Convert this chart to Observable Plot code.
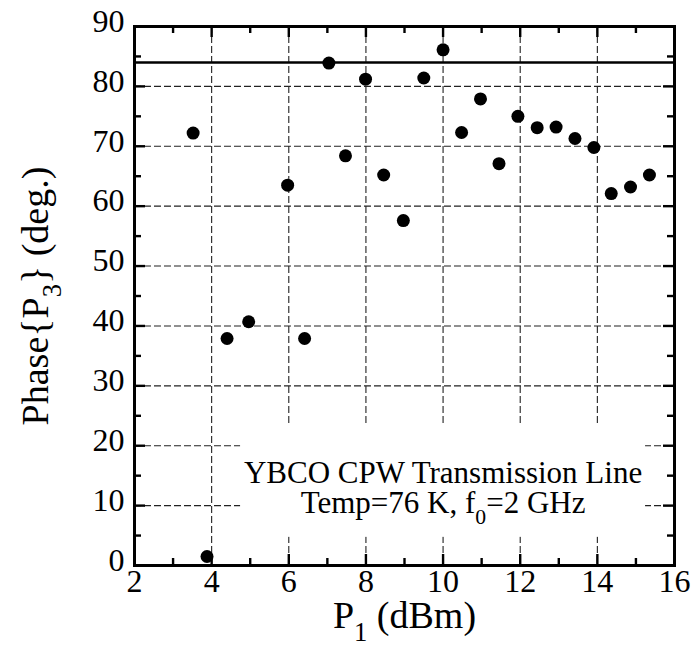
<!DOCTYPE html>
<html>
<head>
<meta charset="utf-8">
<script src="https://cdn.jsdelivr.net/npm/d3@7"></script>
<script src="https://cdn.jsdelivr.net/npm/@observablehq/plot@0.6"></script>
<style>
  html, body { margin: 0; padding: 0; background: #fff; }
  svg text, svg tspan { white-space: pre; }
</style>
</head>
<body>
<div id="chart"></div>
<script>
// Data
const p1 =    [3.52, 3.88, 4.40, 4.96, 5.97, 6.41, 7.04, 7.47, 7.99, 8.46, 8.97, 9.50, 10.00, 10.48, 10.97, 11.45, 11.94, 12.44, 12.93, 13.42, 13.91, 14.36, 14.86, 15.35];
const phase = [72.2, 1.5, 37.9, 40.7, 63.5, 37.9, 83.9, 68.4, 81.2, 65.2, 57.6, 81.4, 86.1, 72.3, 77.9, 67.1, 75.0, 73.1, 73.2, 71.3, 69.8, 62.1, 63.2, 65.2];
const refLine = [84];

const xTicks = [2, 4, 6, 8, 10, 12, 14, 16];
const xMinor = [3, 5, 7, 9, 11, 13, 15];
const yTicks = [0, 10, 20, 30, 40, 50, 60, 70, 80, 90];
const yMinor = [5, 15, 25, 35, 45, 55, 65, 75, 85];
const xGrid = [4, 6, 8, 10, 12, 14];
const yGrid = [10, 20, 30, 40, 50, 60, 70, 80];

const xLabel = "P_1 (dBm)";
const yLabel = "Phase{P_3} (deg.)";
const noteLines = ["YBCO CPW Transmission Line", "Temp=76 K, f_0=2 GHz"];
const noteX = [10, 10];
const noteY = [15.4, 10.4];
const noteBox = [{x1: 4.75, x2: 15.25, y1: 4.7, y2: 23.3}];

const W = 694, H = 661;
const mL = 134, mR = 20, mT = 26, mB = 96;
const innerW = W - mL - mR, innerH = H - mT - mB;
const majLen = 11, minLen = 7;

const data = p1.map((x, i) => ({x, y: phase[i]}));
const notes = noteLines.map((t, i) => ({t, x: noteX[i], y: noteY[i]}));

const chart = Plot.plot({
  width: W, height: H,
  marginLeft: mL, marginRight: mR, marginTop: mT, marginBottom: mB,
  style: {fontFamily: "'Liberation Serif', 'Times New Roman', serif", color: "#000", background: "#fff", overflow: "visible"},
  x: {domain: [2, 16]},
  y: {domain: [0, 90]},
  marks: [
    // grid
    Plot.gridX({ticks: xGrid, stroke: "#222", strokeOpacity: 1, strokeWidth: 1.1, strokeDasharray: "7,3"}),
    Plot.gridY({ticks: yGrid, stroke: "#222", strokeOpacity: 1, strokeWidth: 1.1, strokeDasharray: "7,3"}),
    // white box behind annotation
    Plot.rect(noteBox, {x1: "x1", x2: "x2", y1: "y1", y2: "y2", fill: "#fff"}),
    // reference line
    Plot.ruleY(refLine, {stroke: "#000", strokeWidth: 2.6}),
    // inward tick marks: bottom/top
    Plot.gridX({ticks: xTicks, stroke: "#000", strokeOpacity: 1, strokeWidth: 2.4, insetTop: innerH - majLen}),
    Plot.gridX({ticks: xMinor, stroke: "#000", strokeOpacity: 1, strokeWidth: 2.4, insetTop: innerH - minLen}),
    Plot.gridX({ticks: xTicks, stroke: "#000", strokeOpacity: 1, strokeWidth: 2.4, insetBottom: innerH - majLen}),
    Plot.gridX({ticks: xMinor, stroke: "#000", strokeOpacity: 1, strokeWidth: 2.4, insetBottom: innerH - minLen}),
    // inward tick marks: left/right
    Plot.gridY({ticks: yTicks, stroke: "#000", strokeOpacity: 1, strokeWidth: 2.4, insetRight: innerW - majLen}),
    Plot.gridY({ticks: yMinor, stroke: "#000", strokeOpacity: 1, strokeWidth: 2.4, insetRight: innerW - minLen}),
    Plot.gridY({ticks: yTicks, stroke: "#000", strokeOpacity: 1, strokeWidth: 2.4, insetLeft: innerW - majLen}),
    Plot.gridY({ticks: yMinor, stroke: "#000", strokeOpacity: 1, strokeWidth: 2.4, insetLeft: innerW - minLen}),
    // tick labels
    Plot.axisX({ticks: xTicks, tickSize: 0, tickPadding: 4, fontSize: 32, label: null}),
    Plot.axisY({ticks: yTicks, tickSize: 0, tickPadding: 10, fontSize: 32, dy: -5, label: null}),
    // data points
    Plot.dot(data, {x: "x", y: "y", r: 6.5, fill: "#000", stroke: "none"}),
    // frame
    Plot.frame({stroke: "#000", strokeWidth: 3}),
    // annotation
    Plot.text(notes, {x: "x", y: "y", text: "t", fontSize: 31, textAnchor: "middle", fill: "#000"}),
    // axis labels
    Plot.text([xLabel], {frameAnchor: "bottom", dy: 62, fontSize: 38, textAnchor: "middle", fill: "#000"}),
    Plot.text([yLabel], {frameAnchor: "left", dx: -99, rotate: -90, fontSize: 38, textAnchor: "middle", fill: "#000"})
  ]
});

// subscripts: "X_k rest" -> tspans
const NS = "http://www.w3.org/2000/svg";
chart.querySelectorAll("text, tspan").forEach(el => {
  if (el.children.length) return;
  const t = el.textContent;
  const m = t.match(/^(.*?)_(\w)(.*)$/);
  if (!m) return;
  el.textContent = "";
  el.setAttribute("xml:space", "preserve");
  const a = document.createElementNS(NS, "tspan");
  a.textContent = m[1];
  const s = document.createElementNS(NS, "tspan");
  s.setAttribute("font-size", "0.7em");
  s.setAttribute("dy", "0.5em");
  s.textContent = m[2];
  const r = document.createElementNS(NS, "tspan");
  r.setAttribute("dy", "-0.35em");
  r.textContent = m[3].replace(/^ /, "\u00a0");
  el.append(a, s, r);
});

document.getElementById("chart").append(chart);
</script>
</body>
</html>
